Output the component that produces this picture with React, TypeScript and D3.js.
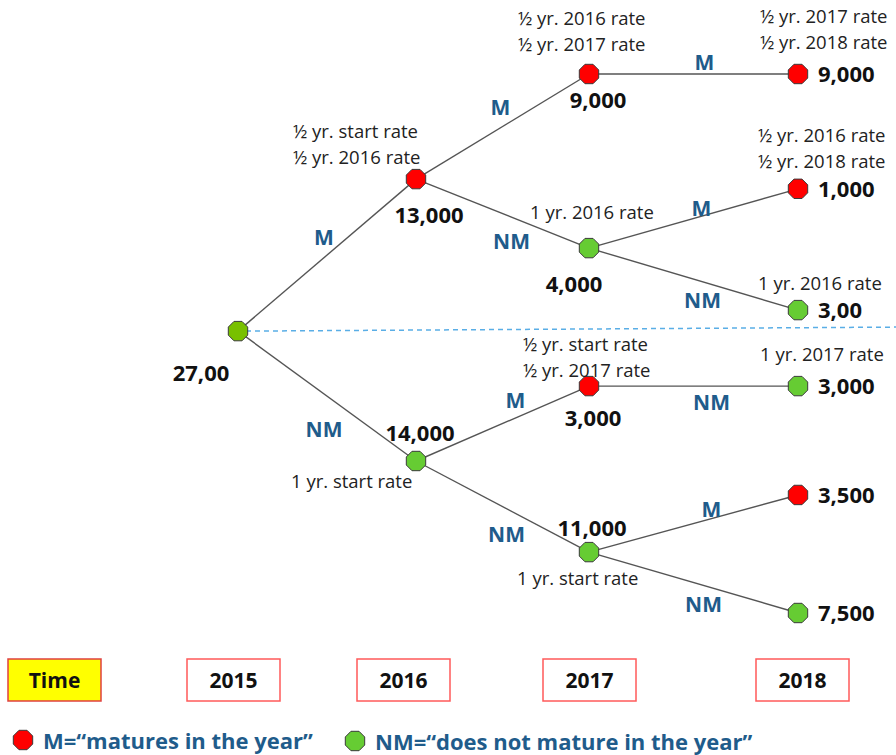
import React from "react";
import * as d3 from "d3";

// tree of maturities, one node per outcome
const years = [2015, 2016, 2017, 2018];
const nodeIds = ["root", "A", "B", "C", "D", "E", "F", "CM", "DM", "DN", "EN", "FM", "FN"];
const nodeYear = [2015, 2016, 2016, 2017, 2017, 2017, 2017, 2018, 2018, 2018, 2018, 2018, 2018];
const nodeLevel = [4.77, 1.95, 7.18, 0, 3.23, 5.79, 8.87, 0, 2.13, 4.38, 5.79, 7.81, 10];
const nodeType = ["root", "M", "NM", "M", "NM", "M", "NM", "M", "M", "NM", "NM", "M", "NM"];
const nodeValue = ["27,00", "13,000", "14,000", "9,000", "4,000", "3,000", "11,000", "9,000", "1,000", "3,00", "3,000", "3,500", "7,500"];
const nodeNotes: string[][] = [
  [],
  ["½ yr. start rate", "½ yr. 2016 rate"],
  ["1 yr. start rate"],
  ["½ yr. 2016 rate", "½ yr. 2017 rate"],
  ["1 yr. 2016 rate"],
  ["½ yr. start rate", "½ yr. 2017 rate"],
  ["1 yr. start rate"],
  ["½ yr. 2017 rate", "½ yr. 2018 rate"],
  ["½ yr. 2016 rate", "½ yr. 2018 rate"],
  ["1 yr. 2016 rate"],
  ["1 yr. 2017 rate"],
  [],
  [],
];
const edgeSource = ["root", "root", "A", "A", "B", "B", "C", "D", "D", "E", "F", "F"];
const edgeTarget = ["A", "B", "C", "D", "E", "F", "CM", "DM", "DN", "EN", "FM", "FN"];
const edgeLabel = ["M", "NM", "M", "NM", "M", "NM", "M", "M", "NM", "NM", "M", "NM"];
const timeLabel = "Time";
const legendLabels = ["M=\u201cmatures in the year\u201d", "NM=\u201cdoes not mature in the year\u201d"];

// label placement (offsets from the node / edge midpoint)
const valueOffset: Record<string, [number, number, string]> = {
  root: [-37, 50, "middle"],
  A: [13, 44, "middle"],
  B: [4, -20, "middle"],
  C: [9, 34, "middle"],
  D: [-15, 44, "middle"],
  E: [4, 40, "middle"],
  F: [3, -16, "middle"],
};
const noteOffset: Record<string, [number, number]> = {
  A: [-123, -41],
  B: [-125, 27],
  C: [-71, -49],
  D: [-59, -29],
  E: [-66, -35],
  F: [-72, 33],
  CM: [-38, -51],
  DM: [-40, -47],
  DN: [-40, -20],
  EN: [-38, -25],
};
const edgeOffset = [[-3, -18], [-3, 33], [-2, -20], [9, 27], [13, -24], [4, 27], [11, -12], [8, -10], [9, 21], [18, 16], [18, -15], [10, 21]];

const W = 896, H = 755;
const FONT = "'Open Sans', Lato, sans-serif";
const BLUE = "#1f5c8b";
const fillFor: Record<string, string> = { root: "#78c000", M: "#ff0000", NM: "#66cc33" };

const x = d3.scaleLinear().domain(years).range([238, 416, 589, 798]);
const y = d3.scaleLinear().domain([0, 10]).range([74, 613]);

const octagon = (r: number) =>
  d3.range(8).map(k => {
    const a = (Math.PI / 8) + k * Math.PI / 4;
    return [r * Math.cos(a), r * Math.sin(a)].join(",");
  }).join(" ");

const Oct = ({ cx, cy, fill }: { cx: number; cy: number; fill: string }) => (
  <polygon points={octagon(10.5)} transform={`translate(${cx},${cy})`} fill={fill} stroke="#3a3a3a" strokeWidth={1} />
);

export default function App() {
  const pos: Record<string, [number, number]> = {};
  nodeIds.forEach((id, i) => { pos[id] = [x(nodeYear[i]), y(nodeLevel[i])]; });
  const root = pos.root;

  const boxX = d3.scaleOrdinal<string, number>().domain([timeLabel, ...years.map(String)]).range([8, 187, 357, 543, 756]);

  return (
    <svg width={W} height={H} style={{ position: "absolute", left: 0, top: 0, background: "#fff" }} fontFamily={FONT}>
      <line x1={root[0] + 8} y1={root[1]} x2={W} y2={root[1] - 4} stroke="#5aaee6" strokeWidth={1.5} strokeDasharray="5,4" />

      {edgeSource.map((s, i) => {
        const [x1, y1] = pos[s];
        const [x2, y2] = pos[edgeTarget[i]];
        return <line key={"e" + i} x1={x1} y1={y1} x2={x2} y2={y2} stroke="#555" strokeWidth={1.4} />;
      })}

      {edgeSource.map((s, i) => {
        const [x1, y1] = pos[s];
        const [x2, y2] = pos[edgeTarget[i]];
        return (
          <text key={"el" + i} x={(x1 + x2) / 2 + edgeOffset[i][0]} y={(y1 + y2) / 2 + edgeOffset[i][1]}
            textAnchor="middle" dominantBaseline="central" fill={BLUE} fontWeight="bold" fontSize={21}>
            {edgeLabel[i]}
          </text>
        );
      })}

      {nodeIds.map((id, i) => {
        const [cx, cy] = pos[id];
        const off = valueOffset[id] || [20, 8, "start"];
        const note = noteOffset[id];
        return (
          <g key={id}>
            <Oct cx={cx} cy={cy} fill={fillFor[nodeType[i]]} />
            <text x={cx + off[0]} y={cy + off[1]} textAnchor={off[2]} fontWeight="bold" fontSize={22} fill="#111">
              {nodeValue[i]}
            </text>
            {note && nodeNotes[i].map((t, j) => (
              <text key={j} x={cx + note[0]} y={cy + note[1] + j * 26} fontSize={18.5} fill="#222">{t}</text>
            ))}
          </g>
        );
      })}

      {[timeLabel, ...years.map(String)].map((t, i) => (
        <g key={t}>
          <rect x={boxX(t)} y={659} width={93} height={42} fill={i === 0 ? "#ffff00" : "#fff"} stroke={i === 0 ? "#e04040" : "#ff5a5a"} strokeWidth={1.5} />
          <text x={boxX(t) + 46.5} y={680} textAnchor="middle" dominantBaseline="central" fontWeight="bold" fontSize={21} fill="#111">{t}</text>
        </g>
      ))}

      <Oct cx={23} cy={740} fill="#ff0000" />
      <text x={43} y={740} dominantBaseline="central" fontWeight="bold" fontSize={22} fill={BLUE}>{legendLabels[0]}</text>
      <Oct cx={355} cy={741} fill="#66cc33" />
      <text x={375} y={741} dominantBaseline="central" fontWeight="bold" fontSize={22} fill={BLUE}>{legendLabels[1]}</text>
    </svg>
  );
}
